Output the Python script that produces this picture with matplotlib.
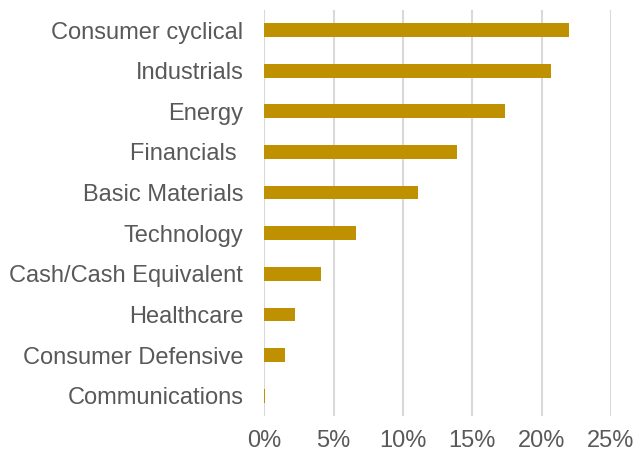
import matplotlib
matplotlib.use("Agg")
import matplotlib.pyplot as plt
import matplotlib.ticker as mticker

sectors = ["Consumer cyclical", "Industrials", "Energy", "Financials ",
           "Basic Materials", "Technology", "Cash/Cash Equivalent",
           "Healthcare", "Consumer Defensive", "Communications"]
weights = [22.0, 20.7, 17.4, 13.9, 11.1, 6.65, 4.08, 2.2, 1.5, 0.03]

plt.rcParams['font.family'] = ['Liberation Sans', 'DejaVu Sans']
text_color = '#595959'

fig = plt.figure(figsize=(6.35, 4.55), dpi=100)
ax = fig.add_axes([0.416, 0.0857, 0.546, 0.893])

ypos = range(len(sectors))
ax.barh(ypos, weights, height=0.34, color='#BF9000', zorder=3)
ax.set_ylim(len(sectors) - 0.5, -0.5)
ax.set_xlim(0, 25)
ax.set_yticks(list(ypos))
ax.set_yticklabels(sectors)
ax.xaxis.set_major_locator(mticker.MultipleLocator(5))
ax.xaxis.set_major_formatter(mticker.FuncFormatter(lambda v, p: '%d%%' % v))
ax.grid(axis='x', color='#D9D9D9', linewidth=1.5, zorder=0)
for s in ax.spines.values():
    s.set_visible(False)
ax.tick_params(axis='both', length=0, labelsize=17, colors=text_color)
ax.tick_params(axis='y', pad=15)
ax.tick_params(axis='x', pad=10)

fig.savefig('out.png', dpi=100)
